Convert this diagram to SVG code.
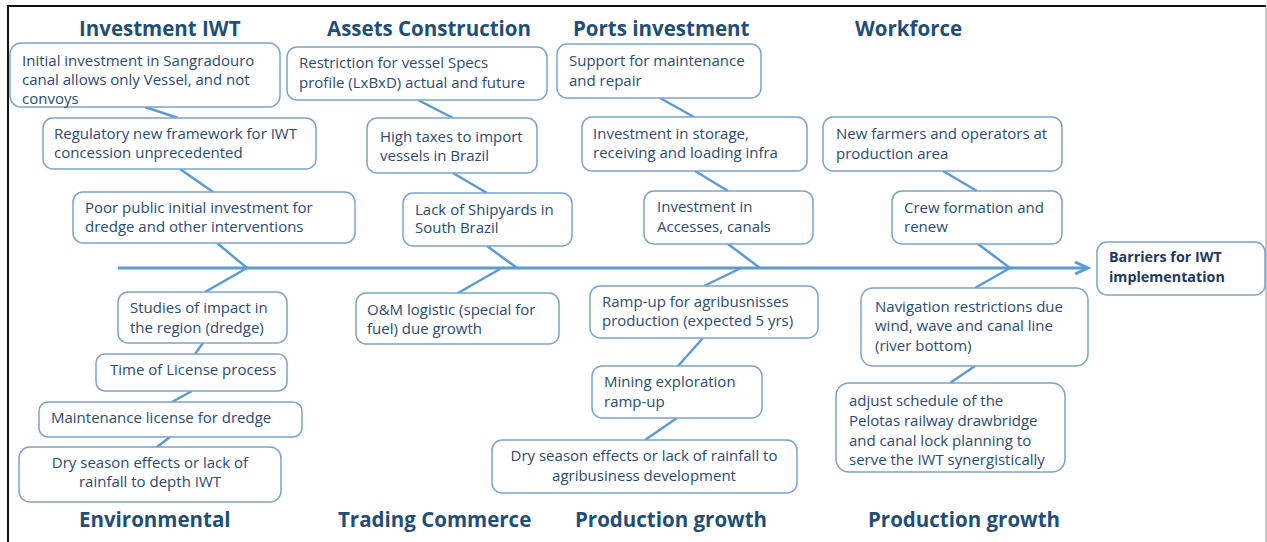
<svg xmlns="http://www.w3.org/2000/svg" width="1267" height="542" viewBox="0 0 1267 542">
  <style>
    .box { fill: #ffffff; stroke: #7ba3cf; stroke-width: 1.5; }
    .t { font-family: "Open Sans", "Liberation Sans", sans-serif; font-size: 15px; fill: #2b4b72; }
    .c { text-anchor: middle; }
    .head { font-family: "Open Sans", "Liberation Sans", sans-serif; font-size: 20.5px; font-weight: bold; fill: #1f4e79; }
    .goal { font-family: "Open Sans", "Liberation Sans", sans-serif; font-size: 14.3px; font-weight: bold; fill: #1f3864; }
    .link { stroke: #5b9bd5; stroke-width: 2.5; fill: none; stroke-linecap: butt; }
    .spine { stroke: #5b9bd5; stroke-width: 3; fill: none; }
  </style>

  <!-- page frame -->
  <rect x="0" y="0" width="1267" height="542" fill="#ffffff"/>
  <line x1="7" y1="6" x2="1266" y2="6" stroke="#111111" stroke-width="2"/>
  <line x1="8" y1="5" x2="8" y2="542" stroke="#111111" stroke-width="2"/>
  <line x1="1266" y1="6" x2="1266" y2="542" stroke="#8c8c8c" stroke-width="1"/>

  <!-- category headings -->
  <g id="headings">
    <text class="head" x="79" y="36">Investment IWT</text>
    <text class="head" x="327" y="36">Assets Construction</text>
    <text class="head" x="573" y="36">Ports investment</text>
    <text class="head" x="855" y="36">Workforce</text>
    <text class="head" x="79" y="527">Environmental</text>
    <text class="head" x="338" y="527">Trading Commerce</text>
    <text class="head" x="575" y="527">Production growth</text>
    <text class="head" x="868" y="527">Production growth</text>
  </g>

  <!-- connectors: main spine, branches and links -->
  <g id="connectors">
    <line class="spine" x1="118" y1="268" x2="1086" y2="268"/>
    <polyline class="spine" points="1075,262 1088,268 1075,274"/>
    <line class="link" x1="145" y1="107" x2="178" y2="118"/>
    <line class="link" x1="180" y1="169" x2="213" y2="192"/>
    <line class="link" x1="217" y1="243" x2="247" y2="268"/>
    <line class="link" x1="247" y1="268" x2="205" y2="292"/>
    <line class="link" x1="203" y1="343" x2="195" y2="354"/>
    <line class="link" x1="192" y1="391" x2="172" y2="402"/>
    <line class="link" x1="170" y1="437" x2="157" y2="447"/>
    <line class="link" x1="418" y1="100" x2="453" y2="118"/>
    <line class="link" x1="453" y1="173" x2="487" y2="193"/>
    <line class="link" x1="487" y1="246" x2="517" y2="268"/>
    <line class="link" x1="500" y1="269" x2="458" y2="293"/>
    <line class="link" x1="660" y1="98" x2="694" y2="117"/>
    <line class="link" x1="695" y1="171" x2="728" y2="191"/>
    <line class="link" x1="728" y1="244" x2="760" y2="268"/>
    <line class="link" x1="741" y1="268" x2="704" y2="286"/>
    <line class="link" x1="703" y1="338" x2="678" y2="366"/>
    <line class="link" x1="677" y1="418" x2="645" y2="440"/>
    <line class="link" x1="943" y1="171" x2="977" y2="191"/>
    <line class="link" x1="978" y1="244" x2="1010" y2="268"/>
    <line class="link" x1="1010" y1="268" x2="975" y2="288"/>
    <line class="link" x1="975" y1="366" x2="950" y2="383"/>
  </g>

  <!-- Investment IWT -->
  <g id="n-sangradouro">
    <rect class="box" x="10" y="43" width="270" height="64" rx="11"/>
    <text class="t" x="22" y="66">Initial investment in Sangradouro</text>
    <text class="t" x="22" y="85">canal allows only Vessel, and not</text>
    <text class="t" x="22" y="104">convoys</text>
  </g>
  <g id="n-regulatory">
    <rect class="box" x="43" y="118" width="273" height="51" rx="10"/>
    <text class="t" x="54" y="139">Regulatory new framework for IWT</text>
    <text class="t" x="54" y="158">concession unprecedented</text>
  </g>
  <g id="n-public">
    <rect class="box" x="73" y="192" width="282" height="51" rx="10"/>
    <text class="t" x="85" y="213">Poor public initial investment for</text>
    <text class="t" x="85" y="232">dredge and other interventions</text>
  </g>

  <!-- Environmental -->
  <g id="n-studies">
    <rect class="box" x="118" y="292" width="169" height="51" rx="10"/>
    <text class="t" x="130" y="313">Studies of impact in</text>
    <text class="t" x="130" y="333">the region (dredge)</text>
  </g>
  <g id="n-license">
    <rect class="box" x="96" y="354" width="191" height="37" rx="9"/>
    <text class="t" x="110" y="375">Time of License process</text>
  </g>
  <g id="n-maintenance">
    <rect class="box" x="39" y="402" width="263" height="35" rx="9"/>
    <text class="t" x="51" y="423">Maintenance license for dredge</text>
  </g>
  <g id="n-dry-depth">
    <rect class="box" x="19" y="447" width="262" height="55" rx="11"/>
    <text class="t c" x="150" y="468">Dry season effects or lack of</text>
    <text class="t c" x="150" y="487">rainfall to depth IWT</text>
  </g>

  <!-- Assets Construction -->
  <g id="n-specs">
    <rect class="box" x="287" y="47" width="260" height="53" rx="10"/>
    <text class="t" x="299" y="68">Restriction for vessel Specs</text>
    <text class="t" x="299" y="88">profile (LxBxD) actual and future</text>
  </g>
  <g id="n-taxes">
    <rect class="box" x="367" y="118" width="170" height="55" rx="10"/>
    <text class="t" x="380" y="142">High taxes to import</text>
    <text class="t" x="380" y="161">vessels in Brazil</text>
  </g>
  <g id="n-shipyards">
    <rect class="box" x="403" y="193" width="169" height="53" rx="10"/>
    <text class="t" x="415" y="215">Lack of Shipyards in</text>
    <text class="t" x="415" y="233">South Brazil</text>
  </g>

  <!-- Trading Commerce -->
  <g id="n-om">
    <rect class="box" x="356" y="293" width="203" height="51" rx="10"/>
    <text class="t" x="367" y="315">O&amp;M logistic (special for</text>
    <text class="t" x="367" y="334">fuel) due growth</text>
  </g>

  <!-- Ports investment -->
  <g id="n-repair">
    <rect class="box" x="557" y="44" width="204" height="54" rx="10"/>
    <text class="t" x="569" y="66">Support for maintenance</text>
    <text class="t" x="569" y="86">and repair</text>
  </g>
  <g id="n-storage">
    <rect class="box" x="582" y="117" width="225" height="54" rx="10"/>
    <text class="t" x="593" y="139">Investment in storage,</text>
    <text class="t" x="593" y="158">receiving and loading infra</text>
  </g>
  <g id="n-accesses">
    <rect class="box" x="644" y="191" width="169" height="53" rx="10"/>
    <text class="t" x="657" y="212">Investment in</text>
    <text class="t" x="657" y="232">Accesses, canals</text>
  </g>

  <!-- Production growth (centre) -->
  <g id="n-rampup">
    <rect class="box" x="590" y="286" width="228" height="52" rx="10"/>
    <text class="t" x="602" y="307">Ramp-up for agribusnisses</text>
    <text class="t" x="602" y="326">production (expected 5 yrs)</text>
  </g>
  <g id="n-mining">
    <rect class="box" x="592" y="366" width="170" height="52" rx="10"/>
    <text class="t" x="604" y="387">Mining exploration</text>
    <text class="t" x="604" y="407">ramp-up</text>
  </g>
  <g id="n-dry-agri">
    <rect class="box" x="492" y="440" width="305" height="53" rx="10"/>
    <text class="t c" x="644" y="461">Dry season effects or lack of rainfall to</text>
    <text class="t c" x="644" y="481">agribusiness development</text>
  </g>

  <!-- Workforce -->
  <g id="n-farmers">
    <rect class="box" x="823" y="117" width="239" height="54" rx="10"/>
    <text class="t" x="836" y="139">New farmers and operators at</text>
    <text class="t" x="836" y="159">production area</text>
  </g>
  <g id="n-crew">
    <rect class="box" x="892" y="191" width="170" height="53" rx="10"/>
    <text class="t" x="904" y="213">Crew formation and</text>
    <text class="t" x="904" y="232">renew</text>
  </g>

  <!-- Production growth (right) -->
  <g id="n-navigation">
    <rect class="box" x="861" y="288" width="227" height="78" rx="12"/>
    <text class="t" x="875" y="312">Navigation restrictions due</text>
    <text class="t" x="875" y="331">wind, wave and canal line</text>
    <text class="t" x="875" y="351">(river bottom)</text>
  </g>
  <g id="n-drawbridge">
    <rect class="box" x="836" y="383" width="229" height="89" rx="13"/>
    <text class="t" x="849" y="406">adjust schedule of the</text>
    <text class="t" x="849" y="426">Pelotas railway drawbridge</text>
    <text class="t" x="849" y="446">and canal lock planning to</text>
    <text class="t" x="849" y="465">serve the IWT synergistically</text>
  </g>

  <!-- effect -->
  <g id="n-barriers">
    <rect class="box" x="1097" y="242" width="168" height="53" rx="10"/>
    <text class="goal" x="1109" y="262">Barriers for IWT</text>
    <text class="goal" x="1109" y="282">implementation</text>
  </g>
</svg>
